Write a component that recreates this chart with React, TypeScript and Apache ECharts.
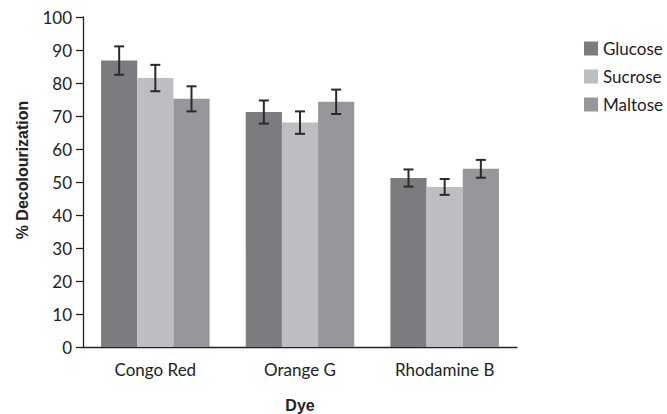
import React, { useEffect, useRef } from "react";
import * as echarts from "echarts";

const categories = ["Congo Red", "Orange G", "Rhodamine B"];
const seriesNames = ["Glucose", "Sucrose", "Maltose"];
const glucose = [86.8, 71.2, 51.2];
const sucrose = [81.5, 68.0, 48.5];
const maltose = [75.2, 74.3, 54.0];
const glucoseErr = [4.3, 3.5, 2.6];
const sucroseErr = [4.0, 3.4, 2.4];
const maltoseErr = [3.8, 3.7, 2.7];
const colors = ["#7b7c80", "#bdbec2", "#96979b"];

export default function App() {
  const ref = useRef<HTMLDivElement>(null);
  useEffect(() => {
    if (!ref.current) return;
    const chart = echarts.init(ref.current, null, { renderer: "svg" });
    const values = [glucose, sucrose, maltose];
    const errs = [glucoseErr, sucroseErr, maltoseErr];
    const barSeries = seriesNames.map((name, i) => ({
      name,
      type: "bar",
      data: values[i],
      itemStyle: { color: colors[i] },
      barGap: "0%",
      barCategoryGap: "25%",
    }));
    const errSeries = seriesNames.map((name, si) => ({
      name: name + " error",
      type: "custom",
      data: values[si].map((v, ci) => [ci, v - errs[si][ci], v + errs[si][ci]]),
      z: 10,
      renderItem: (params: any, api: any) => {
        const ci = api.value(0);
        const lo = api.coord([ci, api.value(1)]);
        const hi = api.coord([ci, api.value(2)]);
        const bandW = api.size([1, 0])[0];
        const barW = (bandW * 0.75) / 3;
        const x = lo[0] + (si - 1) * barW;
        const cap = 5;
        const style = { stroke: "#2a2a2a", lineWidth: 2 };
        return {
          type: "group",
          children: [
            { type: "line", shape: { x1: x, y1: hi[1], x2: x, y2: lo[1] }, style },
            { type: "line", shape: { x1: x - cap, y1: hi[1], x2: x + cap, y2: hi[1] }, style },
            { type: "line", shape: { x1: x - cap, y1: lo[1], x2: x + cap, y2: lo[1] }, style },
          ],
        };
      },
    }));
    chart.setOption({
      animation: false,
      backgroundColor: "#ffffff",
      grid: { left: 83, right: 150, top: 17, bottom: 67, outerBoundsMode: "none", containLabel: false },
      legend: {
        data: seriesNames,
        orient: "vertical",
        left: 579,
        top: 35,
        itemWidth: 14,
        itemHeight: 14,
        itemGap: 11,
        icon: "rect",
        textStyle: { fontFamily: "Lato", fontSize: 17, color: "#222" },
      },
      xAxis: {
        type: "category",
        data: categories,
        name: "Dye",
        nameLocation: "middle",
        nameGap: 50,
        nameTextStyle: { fontFamily: "Liberation Sans", fontWeight: "bold", fontSize: 16, color: "#222" },
        axisLine: { lineStyle: { color: "#222", width: 1.3 } },
        axisTick: { length: 8, lineStyle: { color: "#222", width: 1.3 } },
        axisLabel: { fontFamily: "Lato", fontSize: 17, color: "#222", margin: 14 },
      },
      yAxis: {
        type: "value",
        min: 0,
        max: 100,
        interval: 10,
        axisLine: { show: true, lineStyle: { color: "#222", width: 1.3 } },
        axisTick: { show: true, length: 7, lineStyle: { color: "#222", width: 1.3 } },
        axisLabel: { fontFamily: "Lato", fontSize: 17, color: "#222", margin: 11 },
        splitLine: { show: false },
      },
      graphic: [
        {
          type: "text",
          x: 22,
          y: 170,
          rotation: Math.PI / 2,
          style: {
            text: "% Decolourization",
            fontFamily: "Liberation Sans",
            fontWeight: "bold",
            fontSize: 16,
            fill: "#222",
            align: "center",
            verticalAlign: "middle",
          },
        },
      ],
      series: [...barSeries, ...errSeries],
    });
    return () => chart.dispose();
  }, []);
  return (
    <div
      ref={ref}
      style={{ position: "fixed", left: 0, top: 0, width: 667, height: 414 }}
    />
  );
}
